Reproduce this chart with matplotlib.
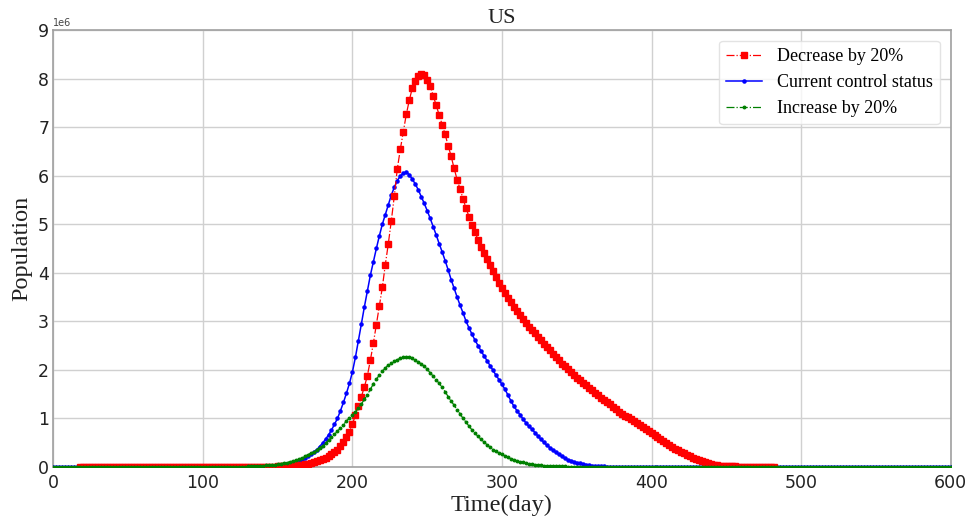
import numpy as np
import matplotlib
matplotlib.use("Agg")
import matplotlib.pyplot as plt

# ---------------- data (values in millions, sampled every 2 days) ----------------
step = 2

# Decrease by 20%  (red), days 18 .. 482
red_start = 18
red_vals = (
    [0.0] * 66 +                                                                  # days 18-148
    [0.01, 0.01, 0.015, 0.02, 0.025, 0.03, 0.035, 0.04, 0.05, 0.06,              # 150-168
     0.07, 0.08, 0.10, 0.12, 0.14, 0.17, 0.19, 0.22, 0.26, 0.30,                 # 170-188
     0.36, 0.43, 0.51, 0.61, 0.73, 0.88, 1.07, 1.25, 1.45, 1.65,                 # 190-208
     1.88, 2.20, 2.55, 2.93, 3.31, 3.70, 4.17, 4.60, 5.07, 5.58,                 # 210-228
     6.14, 6.54, 6.90, 7.26, 7.55, 7.80, 7.96, 8.06, 8.10, 8.07,                 # 230-248
     7.98, 7.85, 7.65, 7.45, 7.25, 7.05, 6.85, 6.62, 6.40, 6.15,                 # 250-268
     5.92, 5.72, 5.52, 5.33, 5.15, 4.98, 4.83, 4.68, 4.54, 4.41,                 # 270-288
     4.28, 4.15, 4.03, 3.91, 3.79, 3.68, 3.58, 3.48, 3.39, 3.30,                 # 290-308
     3.21, 3.13, 3.05, 2.97, 2.89, 2.82, 2.75, 2.68, 2.61, 2.54,                 # 310-328
     2.47, 2.40, 2.33, 2.26, 2.20, 2.13, 2.07, 2.01, 1.95, 1.89,                 # 330-348
     1.84, 1.79, 1.74, 1.69, 1.63, 1.58, 1.53, 1.48, 1.43, 1.38,                 # 350-368
     1.33, 1.29, 1.24, 1.19, 1.14, 1.10, 1.06, 1.02, 0.98, 0.94,                 # 370-388
     0.90, 0.86, 0.82, 0.78, 0.74, 0.70, 0.66, 0.62, 0.58, 0.54,                 # 390-408
     0.50, 0.46, 0.42, 0.38, 0.35, 0.31, 0.28, 0.25, 0.22, 0.19,                 # 410-428
     0.16, 0.14, 0.12, 0.10, 0.08, 0.06, 0.05, 0.04, 0.03, 0.025,                # 430-448
     0.02, 0.015, 0.012, 0.01, 0.008, 0.006, 0.005, 0.004, 0.003, 0.002,         # 450-468
     0.002] +                                                                     # 470
    [0.0] * 6                                                                     # 472-482
)

# Current control status (blue), days 0 .. 600
blue_start = 0
blue_vals = (
    [0.0] * 65 +                                                                  # days 0-128
    [0.005, 0.005, 0.007, 0.008, 0.01, 0.01, 0.01, 0.02, 0.02, 0.03,             # 130-148
     0.03, 0.04, 0.04, 0.05, 0.06, 0.08, 0.10, 0.12, 0.15, 0.18,                 # 150-168
     0.22, 0.26, 0.30, 0.35, 0.42, 0.49, 0.57, 0.66, 0.76, 0.88,                 # 170-188
     1.00, 1.16, 1.33, 1.52, 1.72, 1.96, 2.26, 2.60, 2.95, 3.30,                 # 190-208
     3.62, 3.95, 4.23, 4.50, 4.76, 5.00, 5.20, 5.40, 5.60, 5.76,                 # 210-228
     5.90, 5.99, 6.05, 6.07, 6.02, 5.93, 5.83, 5.71, 5.57, 5.43,                 # 230-248
     5.28, 5.12, 4.95, 4.78, 4.60, 4.43, 4.25, 4.06, 3.86, 3.68,                 # 250-268
     3.50, 3.33, 3.17, 3.00, 2.86, 2.73, 2.61, 2.50, 2.39, 2.29,                 # 270-288
     2.19, 2.09, 1.99, 1.89, 1.80, 1.70, 1.60, 1.48, 1.36, 1.25,                 # 290-308
     1.16, 1.08, 0.99, 0.91, 0.84, 0.78, 0.71, 0.64, 0.57, 0.51,                 # 310-328
     0.45, 0.40, 0.35, 0.30, 0.26, 0.22, 0.18, 0.15, 0.13, 0.11,                 # 330-348
     0.09, 0.08, 0.065, 0.05, 0.04, 0.03, 0.025, 0.02, 0.015, 0.011,             # 350-368
     0.008, 0.006, 0.004, 0.003, 0.002, 0.001] +                                  # 370-380
    [0.0] * 110                                                                   # 382-600
)

# Increase by 20% (green), days 0 .. 600
green_start = 0
green_vals = (
    [0.0] * 65 +                                                                  # days 0-128
    [0.01, 0.01, 0.02, 0.02, 0.03, 0.03, 0.04, 0.04, 0.05, 0.05,                 # 130-148
     0.06, 0.07, 0.08, 0.09, 0.11, 0.12, 0.14, 0.16, 0.19, 0.22,                 # 150-168
     0.25, 0.28, 0.31, 0.35, 0.40, 0.44, 0.49, 0.55, 0.61, 0.67,                 # 170-188
     0.74, 0.80, 0.87, 0.95, 1.01, 1.07, 1.14, 1.22, 1.30, 1.39,                 # 190-208
     1.49, 1.60, 1.71, 1.81, 1.89, 1.97, 2.04, 2.10, 2.14, 2.18,                 # 210-228
     2.21, 2.24, 2.26, 2.27, 2.27, 2.25, 2.21, 2.17, 2.12, 2.08,                 # 230-248
     2.01, 1.94, 1.87, 1.80, 1.72, 1.64, 1.55, 1.45, 1.36, 1.27,                 # 250-268
     1.18, 1.09, 1.00, 0.92, 0.84, 0.76, 0.69, 0.63, 0.57, 0.51,                 # 270-288
     0.46, 0.41, 0.36, 0.32, 0.29, 0.26, 0.23, 0.20, 0.17, 0.15,                 # 290-308
     0.13, 0.11, 0.10, 0.08, 0.07, 0.06, 0.05, 0.04, 0.04, 0.03,                 # 310-328
     0.02, 0.02, 0.02, 0.01, 0.01, 0.01, 0.01, 0.005, 0.005, 0.003,              # 330-348
     0.002] +                                                                     # 350
    [0.0] * 125                                                                   # 352-600
)

labels = ["Decrease by 20%", "Current control status", "Increase by 20%"]
x_ticks = [0, 100, 200, 300, 400, 500, 600]
y_ticks = [0, 1, 2, 3, 4, 5, 6, 7, 8, 9]

red_days = red_start + step * np.arange(len(red_vals))
blue_days = blue_start + step * np.arange(len(blue_vals))
green_days = green_start + step * np.arange(len(green_vals))

# ---------------- plot ----------------
serif = ["Liberation Serif", "DejaVu Serif"]
fig = plt.figure(figsize=(9.70, 5.22), dpi=100)
ax = fig.add_axes([0.055, 0.1054, 0.925, 0.8371])

ax.plot(red_days, np.array(red_vals) * 1e6, color="red", ls="-.", lw=0.9,
        marker="s", ms=4.2, label=labels[0], zorder=3)
ax.plot(blue_days, np.array(blue_vals) * 1e6, color="blue", ls="-", lw=1.1,
        marker=".", ms=4.5, label=labels[1], zorder=2.9)
ax.plot(green_days, np.array(green_vals) * 1e6, color="green", ls="-.", lw=0.9,
        marker=".", ms=3.6, label=labels[2], zorder=3.1)

ax.set_xlim(0, 600)
ax.set_ylim(0, 9e6)
ax.set_xticks(x_ticks)
ax.set_yticks([v * 1e6 for v in y_ticks])
ax.grid(True, color="#d0d0d0", lw=1.0)
ax.set_axisbelow(True)
ax.tick_params(length=0, labelsize=12.5, colors="#222222")
ax.tick_params(axis="x", pad=5)
ax.tick_params(axis="y", pad=3)
for s in ax.spines.values():
    s.set_color("#a0a0a0")
    s.set_linewidth(1.2)

ax.yaxis.get_offset_text().set_fontsize(7)
ax.yaxis.get_offset_text().set_color("#444444")

ax.set_title("US", fontsize=16, family=serif, pad=5, color="#222222")
ax.set_xlabel("Time(day)", fontsize=17.5, family=serif, labelpad=2, color="#222222")
ax.set_ylabel("Population", fontsize=17.5, family=serif, labelpad=4, color="#222222")

leg = ax.legend(loc="upper right", prop={"family": serif, "size": 13},
                frameon=True, fancybox=True, borderaxespad=0.6)
leg.get_frame().set_edgecolor("#dddddd")

fig.savefig("out.png", dpi=100)
